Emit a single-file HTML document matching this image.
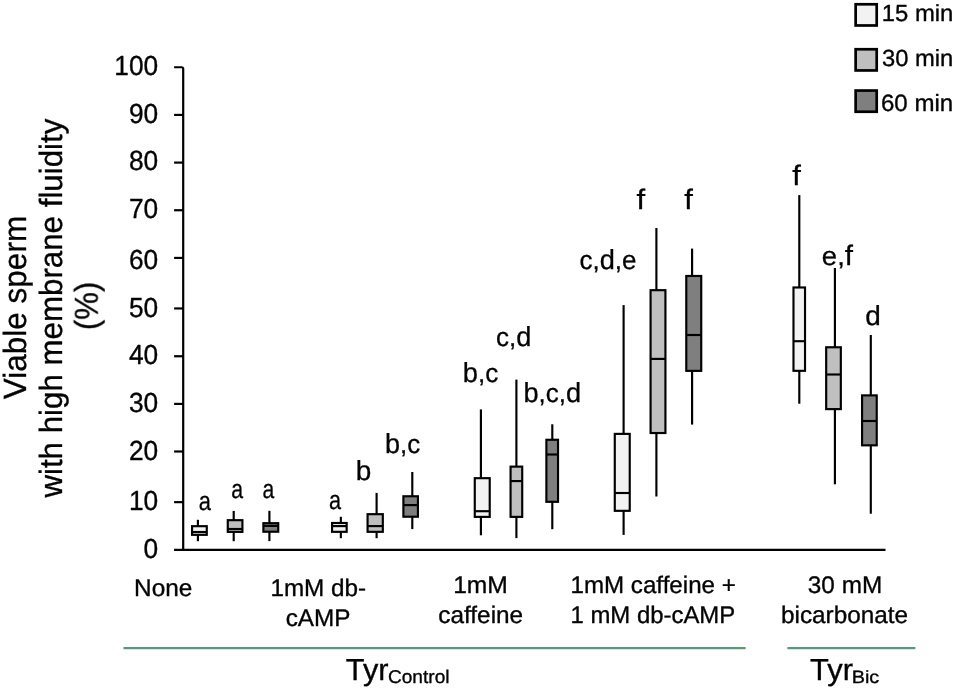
<!DOCTYPE html>
<html><head><meta charset="utf-8"><title>Viable sperm with high membrane fluidity</title>
<style>html,body{margin:0;padding:0;background:#fff;}svg{display:block;}text{font-family:"Liberation Sans", sans-serif;fill:#000;text-rendering:geometricPrecision;stroke:#000;stroke-width:0.35px;stroke-linejoin:round;}text.lt{stroke-width:0.3px;font-kerning:none;}</style></head><body>
<svg width="955" height="689" viewBox="0 0 955 689">
<rect x="0" y="0" width="955" height="689" fill="#ffffff"/>
<line x1="123.5" y1="648.1" x2="745.6" y2="648.1" stroke="#569a7a" stroke-width="2.4"/>
<line x1="787.4" y1="648.1" x2="915.4" y2="648.1" stroke="#569a7a" stroke-width="2.4"/>
<line x1="197.9" y1="519.80" x2="197.9" y2="541.20" stroke="#000" stroke-width="2.15"/>
<rect x="192.07" y="526.18" width="14.71" height="8.65" fill="#f2f2f2" stroke="#000" stroke-width="2.15"/>
<line x1="192.07" y1="532.0" x2="206.79" y2="532.0" stroke="#000" stroke-width="2.15"/>
<line x1="233.7" y1="510.90" x2="233.7" y2="541.20" stroke="#000" stroke-width="2.15"/>
<rect x="227.77" y="520.18" width="14.65" height="11.70" fill="#bfbfbf" stroke="#000" stroke-width="2.15"/>
<line x1="227.77" y1="529.0" x2="242.43" y2="529.0" stroke="#000" stroke-width="2.15"/>
<line x1="269.4" y1="510.80" x2="269.4" y2="541.10" stroke="#000" stroke-width="2.15"/>
<rect x="263.38" y="523.18" width="14.85" height="8.55" fill="#7f7f7f" stroke="#000" stroke-width="2.15"/>
<line x1="263.38" y1="525.9" x2="278.23" y2="525.9" stroke="#000" stroke-width="2.15"/>
<line x1="340.85" y1="516.80" x2="340.85" y2="538.20" stroke="#000" stroke-width="2.15"/>
<rect x="332.07" y="522.98" width="14.60" height="8.85" fill="#f2f2f2" stroke="#000" stroke-width="2.15"/>
<line x1="332.07" y1="526.1" x2="346.68" y2="526.1" stroke="#000" stroke-width="2.15"/>
<line x1="376.6" y1="492.90" x2="376.6" y2="538.20" stroke="#000" stroke-width="2.15"/>
<rect x="367.57" y="514.18" width="15.25" height="17.65" fill="#bfbfbf" stroke="#000" stroke-width="2.15"/>
<line x1="367.57" y1="526.1" x2="382.82" y2="526.1" stroke="#000" stroke-width="2.15"/>
<line x1="412.3" y1="472.00" x2="412.3" y2="529.10" stroke="#000" stroke-width="2.15"/>
<rect x="403.38" y="496.27" width="14.55" height="20.45" fill="#7f7f7f" stroke="#000" stroke-width="2.15"/>
<line x1="403.38" y1="505.1" x2="417.93" y2="505.1" stroke="#000" stroke-width="2.15"/>
<line x1="480.9" y1="409.40" x2="480.9" y2="535.30" stroke="#000" stroke-width="2.15"/>
<rect x="474.77" y="478.18" width="14.95" height="38.71" fill="#f2f2f2" stroke="#000" stroke-width="2.15"/>
<line x1="474.77" y1="511.2" x2="489.73" y2="511.2" stroke="#000" stroke-width="2.15"/>
<line x1="516.4" y1="379.60" x2="516.4" y2="538.10" stroke="#000" stroke-width="2.15"/>
<rect x="510.57" y="466.63" width="11.65" height="50.25" fill="#bfbfbf" stroke="#000" stroke-width="2.15"/>
<line x1="510.57" y1="481.06" x2="522.22" y2="481.06" stroke="#000" stroke-width="2.15"/>
<line x1="552.3" y1="424.30" x2="552.3" y2="529.20" stroke="#000" stroke-width="2.15"/>
<rect x="546.38" y="439.77" width="11.65" height="62.05" fill="#7f7f7f" stroke="#000" stroke-width="2.15"/>
<line x1="546.38" y1="454.5" x2="558.02" y2="454.5" stroke="#000" stroke-width="2.15"/>
<line x1="623.6" y1="305.10" x2="623.6" y2="534.90" stroke="#000" stroke-width="2.15"/>
<rect x="614.78" y="433.88" width="14.95" height="76.95" fill="#f2f2f2" stroke="#000" stroke-width="2.15"/>
<line x1="614.78" y1="493.0" x2="629.72" y2="493.0" stroke="#000" stroke-width="2.15"/>
<line x1="656.4" y1="227.90" x2="656.4" y2="496.40" stroke="#000" stroke-width="2.15"/>
<rect x="650.58" y="290.18" width="14.85" height="142.85" fill="#bfbfbf" stroke="#000" stroke-width="2.15"/>
<line x1="650.58" y1="358.9" x2="665.42" y2="358.9" stroke="#000" stroke-width="2.15"/>
<line x1="692.1" y1="248.60" x2="692.1" y2="424.60" stroke="#000" stroke-width="2.15"/>
<rect x="686.28" y="275.97" width="14.95" height="94.90" fill="#7f7f7f" stroke="#000" stroke-width="2.15"/>
<line x1="686.28" y1="335.0" x2="701.22" y2="335.0" stroke="#000" stroke-width="2.15"/>
<line x1="799.3" y1="195.10" x2="799.3" y2="403.70" stroke="#000" stroke-width="2.15"/>
<rect x="793.48" y="287.47" width="11.55" height="83.35" fill="#f2f2f2" stroke="#000" stroke-width="2.15"/>
<line x1="793.48" y1="341.2" x2="805.02" y2="341.2" stroke="#000" stroke-width="2.15"/>
<line x1="834.9" y1="268.00" x2="834.9" y2="484.30" stroke="#000" stroke-width="2.15"/>
<rect x="826.18" y="347.27" width="14.65" height="61.85" fill="#bfbfbf" stroke="#000" stroke-width="2.15"/>
<line x1="826.18" y1="374.5" x2="840.82" y2="374.5" stroke="#000" stroke-width="2.15"/>
<line x1="870.8" y1="335.00" x2="870.8" y2="513.70" stroke="#000" stroke-width="2.15"/>
<rect x="862.08" y="395.38" width="14.65" height="49.95" fill="#7f7f7f" stroke="#000" stroke-width="2.15"/>
<line x1="862.08" y1="421.0" x2="876.72" y2="421.0" stroke="#000" stroke-width="2.15"/>
<path d="M174.1 67.24 H181.6 Q183.2 67.24 183.2 68.83999999999999 V549.85 " fill="none" stroke="#000" stroke-width="2.2"/>
<line x1="174.1" y1="549.85" x2="885.5" y2="549.85" stroke="#000" stroke-width="2.2"/>
<line x1="174.1" y1="114.93" x2="183.2" y2="114.93" stroke="#000" stroke-width="2.2"/>
<line x1="174.1" y1="162.6" x2="183.2" y2="162.6" stroke="#000" stroke-width="2.2"/>
<line x1="174.1" y1="210.24" x2="183.2" y2="210.24" stroke="#000" stroke-width="2.2"/>
<line x1="174.1" y1="257.93" x2="183.2" y2="257.93" stroke="#000" stroke-width="2.2"/>
<line x1="174.1" y1="308.46" x2="183.2" y2="308.46" stroke="#000" stroke-width="2.2"/>
<line x1="174.1" y1="356.24" x2="183.2" y2="356.24" stroke="#000" stroke-width="2.2"/>
<line x1="174.1" y1="403.93" x2="183.2" y2="403.93" stroke="#000" stroke-width="2.2"/>
<line x1="174.1" y1="451.5" x2="183.2" y2="451.5" stroke="#000" stroke-width="2.2"/>
<line x1="174.1" y1="502.15" x2="183.2" y2="502.15" stroke="#000" stroke-width="2.2"/>
<g opacity="0.99">
<text transform="translate(114.36 74.67) scale(0.9551 1)" font-size="27.55">100</text>
<text transform="translate(128.99 122.87) scale(0.9551 1)" font-size="27.55">90</text>
<text transform="translate(128.99 169.87) scale(0.9551 1)" font-size="27.55">80</text>
<text transform="translate(128.99 218.07) scale(0.9551 1)" font-size="27.55">70</text>
<text transform="translate(128.99 268.67) scale(0.9551 1)" font-size="27.55">60</text>
<text transform="translate(128.99 316.87) scale(0.9551 1)" font-size="27.55">50</text>
<text transform="translate(128.99 363.67) scale(0.9551 1)" font-size="27.55">40</text>
<text transform="translate(128.99 411.97) scale(0.9551 1)" font-size="27.55">30</text>
<text transform="translate(128.99 459.82) scale(0.9551 1)" font-size="27.55">20</text>
<text transform="translate(128.99 509.67) scale(0.9551 1)" font-size="27.55">10</text>
<text transform="translate(143.62 557.87) scale(0.9551 1)" font-size="27.55">0</text>
<text transform="translate(881.71 20.94) scale(1.0270 1)" font-size="23.24">15 min</text>
<text transform="translate(881.96 65.90) scale(1.0196 1)" font-size="23.32">30 min</text>
<text transform="translate(880.97 110.50) scale(1.0186 1)" font-size="23.61">60 min</text>
<text transform="translate(134.10 596.20) scale(1.0142 1)" font-size="24.00">None</text>
<text transform="translate(270.38 596.20) scale(1.0117 1)" font-size="24.00">1mM db-</text>
<text transform="translate(285.64 625.80) scale(1.0120 1)" font-size="24.00">cAMP</text>
<text transform="translate(453.16 593.30) scale(1.0256 1)" font-size="24.00">1mM</text>
<text transform="translate(438.34 622.90) scale(1.0134 1)" font-size="24.00">caffeine</text>
<text transform="translate(570.49 592.85) scale(1.0061 1)" font-size="24.00">1mM caffeine +</text>
<text transform="translate(570.51 622.60) scale(0.9960 1)" font-size="24.00">1 mM db-cAMP</text>
<text transform="translate(807.84 592.60) scale(1.0130 1)" font-size="24.00">30 mM</text>
<text transform="translate(780.98 622.80) scale(1.0126 1)" font-size="24.00">bicarbonate</text>
<text transform="translate(345.82 679.80) scale(1.0086 1)" font-size="30.44">Tyr</text>
<text transform="translate(387.90 682.50) scale(1.0345 1)" font-size="18.49">Control</text>
<text transform="translate(810.12 679.80) scale(1.0134 1)" font-size="30.44">Tyr</text>
<text transform="translate(851.70 682.50) scale(1.1181 1)" font-size="17.78">Bic</text>
<text class="lt" transform="translate(198.72 509.55) scale(0.8302 1)" font-size="26.30">a</text>
<text class="lt" transform="translate(231.14 497.95) scale(0.8088 1)" font-size="26.30">a</text>
<text class="lt" transform="translate(262.54 497.85) scale(0.8016 1)" font-size="26.30">a</text>
<text class="lt" transform="translate(328.92 509.45) scale(0.8231 1)" font-size="26.30">a</text>
<text class="lt" transform="translate(355.65 479.65) scale(1.0160 1)" font-size="26.30"><tspan font-size="27.50">b</tspan></text>
<text class="lt" transform="translate(385.01 452.85) scale(0.9845 1)" font-size="26.30"><tspan font-size="27.50">b</tspan>,c</text>
<text class="lt" transform="translate(462.80 381.55) scale(0.9904 1)" font-size="26.30"><tspan font-size="27.50">b</tspan>,c</text>
<text class="lt" transform="translate(495.99 346.05) scale(0.9885 1)" font-size="26.30">c,<tspan font-size="27.50">d</tspan></text>
<text class="lt" transform="translate(523.40 402.05) scale(0.9893 1)" font-size="26.30"><tspan font-size="27.50">b</tspan>,c,<tspan font-size="27.50">d</tspan></text>
<text class="lt" transform="translate(579.49 268.55) scale(0.9893 1)" font-size="26.30">c,<tspan font-size="27.50">d</tspan>,e</text>
<text class="lt" transform="translate(636.54 209.30) scale(1.1000 1)" font-size="26.30"><tspan font-size="28.20">f</tspan></text>
<text class="lt" transform="translate(684.14 209.30) scale(1.1000 1)" font-size="26.30"><tspan font-size="28.20">f</tspan></text>
<text class="lt" transform="translate(792.14 184.60) scale(1.1000 1)" font-size="26.30"><tspan font-size="28.20">f</tspan></text>
<text class="lt" transform="translate(821.84 265.35) scale(1.0467 1)" font-size="26.30">e,<tspan font-size="28.20">f</tspan></text>
<text class="lt" transform="translate(865.13 324.85) scale(1.0162 1)" font-size="26.30"><tspan font-size="27.50">d</tspan></text>
<text transform="translate(26.40 399.20) rotate(-90) scale(0.9809 1)" font-size="32.14">Viable sperm</text>
<text transform="translate(62.20 497.61) rotate(-90) scale(0.9736 1)" font-size="32.14">with high membrane fluidity</text>
<text transform="translate(97.75 330.16) rotate(-90) scale(0.9381 1)" font-size="33.30">(%)</text>
</g>
<rect x="855.65" y="4.28" width="21.05" height="21.20" fill="#f2f2f2" stroke="#000" stroke-width="2.7"/>
<rect x="855.65" y="49.25" width="21.05" height="21.20" fill="#bfbfbf" stroke="#000" stroke-width="2.7"/>
<rect x="855.65" y="90.55" width="21.05" height="21.20" fill="#7f7f7f" stroke="#000" stroke-width="2.7"/>
</svg></body></html>
